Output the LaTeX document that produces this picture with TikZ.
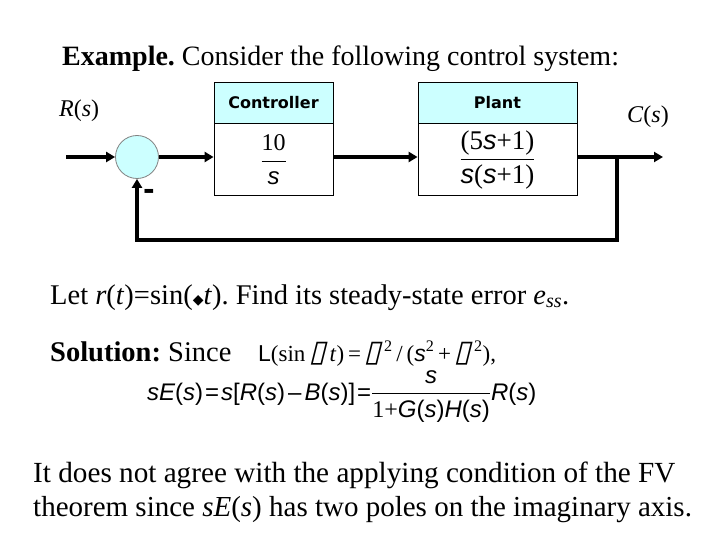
\documentclass[tikz,border=0pt]{standalone}
\usepackage{amsmath}
\usepackage{fontspec}
\setmainfont{Liberation Serif}
\newfontfamily\arialfont{Liberation Sans}
\newfontfamily\verdfont{DejaVu Sans}
\newfontfamily\glyphfont[FakeSlant=0.25]{DejaVu Sans}
\usetikzlibrary{arrows.meta,positioning}
\definecolor{paleblue}{RGB}{204,255,255}
\newcommand{\as}[1]{{\arialfont\itshape #1}}
\newcommand{\ar}[1]{{\arialfont #1}}
\newcommand{\wbox}{{\glyphfont\fontsize{30}{30}\selectfont\char"25AF}}
\frenchspacing

\begin{document}
\begin{tikzpicture}[x=1pt, y=-1pt,
    sumpt/.style = {draw=gray, line width=0.8pt, circle, fill=paleblue, minimum size=43pt, inner sep=0pt},
    head/.style = {draw, line width=0.8pt, fill=paleblue, minimum width=#1, minimum height=41pt, inner sep=0pt, font=\verdfont\bfseries\fontsize{16}{18}\selectfont},
    body/.style = {draw, line width=0.8pt, minimum width=#1, minimum height=72pt, inner sep=0pt, font=\fontsize{24}{28}\selectfont},
    txt/.style = {anchor=base west, inner sep=0pt, font=\fontsize{28.5}{34}\selectfont},
    eqn/.style = {anchor=base west, inner sep=0pt, font=\fontsize{24}{28}\selectfont},
    arr/.style = {line width=4pt, -{Triangle[length=9pt,width=10pt]}}]
    \useasboundingbox (0,0) rectangle (720,540);
    \node[txt, font=\fontsize{28}{34}\selectfont] (title) at (62,66) {\textbf{Example.} Consider the following control system:};
    \node[txt, font=\fontsize{24}{28}\selectfont] (rin) at (59,117) {\textit{R}(\textit{s})};
    \node[txt, font=\fontsize{24}{28}\selectfont] (cout) at (627,123) {\textit{C}(\textit{s})};
    \node[sumpt] (sum) at (137,157) {};
    \node[head=119pt] (ctrlh) at (273.5,102.5) {Controller};
    \node[body=119pt, below=0pt of ctrlh] (ctrl) {$\dfrac{\mbox{10}}{\mbox{\as{s}}}$};
    \node[head=159pt] (planth) at (497.5,102.5) {Plant};
    \node[body=159pt, below=0pt of planth, font=\fontsize{27}{30}\selectfont] (plant) {$\dfrac{\mbox{(5\as{s}+1)}}{\mbox{\as{s}(\as{s}+1)}}$};
    \node[inner sep=0pt, font=\verdfont\bfseries\fontsize{28}{30}\selectfont] (minus) at (149,194) {-};
    \coordinate (in) at (66,157);
    \coordinate (branch) at (617,157);
    \coordinate (out) at (663,157);
    \coordinate (fb) at (137,240);
    \draw[arr] (in) -- (sum);
    \draw[arr] (sum) -- (sum -| ctrl.west);
    \draw[arr] (ctrl.east |- sum) -- (plant.west |- sum);
    \draw[line width=4pt] (plant.east |- sum) -- (branch);
    \draw[arr] (branch) -- (out);
    \draw[arr] (branch) |- (fb) -- (sum);
    \node[txt] (task) at (50,304) {Let \textit{r}(\textit{t})=sin({\verdfont\fontsize{14}{16}\selectfont\char"25C6}\textit{t}). Find its steady-state error \textit{e}\textsubscript{\textit{ss}}.};
    \node[txt] (sol) at (50,361) {\textbf{Solution:} Since};
    \node[eqn, font=\fontsize{23}{28}\selectfont] (lap) at (258,361) {\ar{L}(sin\,\wbox\,\textit{t})\,=\,\wbox\textsuperscript{\,2}\,/\,(\as{s}\textsuperscript{2}\,+\,\wbox\textsuperscript{\,2}),};
    \node[eqn] (err) at (147,400) {\as{sE}\ar{(}\as{s}\ar{)}\kern2pt\ar{=}\kern2pt\as{s}\ar{[}\as{R}\ar{(}\as{s}\ar{)}\kern3pt\ar{\char"2013}\kern3pt\as{B}\ar{(}\as{s}\ar{)]}\kern2pt\ar{=}$\dfrac{\mbox{\as{s}}}{\mbox{1+\as{G}\ar{(}\as{s}\ar{)}\as{H}\ar{(}\as{s}\ar{)}}}$\as{R}\ar{(}\as{s}\ar{)}};
    \node[txt, font=\fontsize{29.2}{34}\selectfont] (note1) at (33,482) {It does not agree with the applying condition of the FV};
    \node[txt, font=\fontsize{29}{34}\selectfont] (note2) at (33,516) {theorem since \textit{sE}(\textit{s}) has two poles on the imaginary axis.};
\end{tikzpicture}
\end{document}
